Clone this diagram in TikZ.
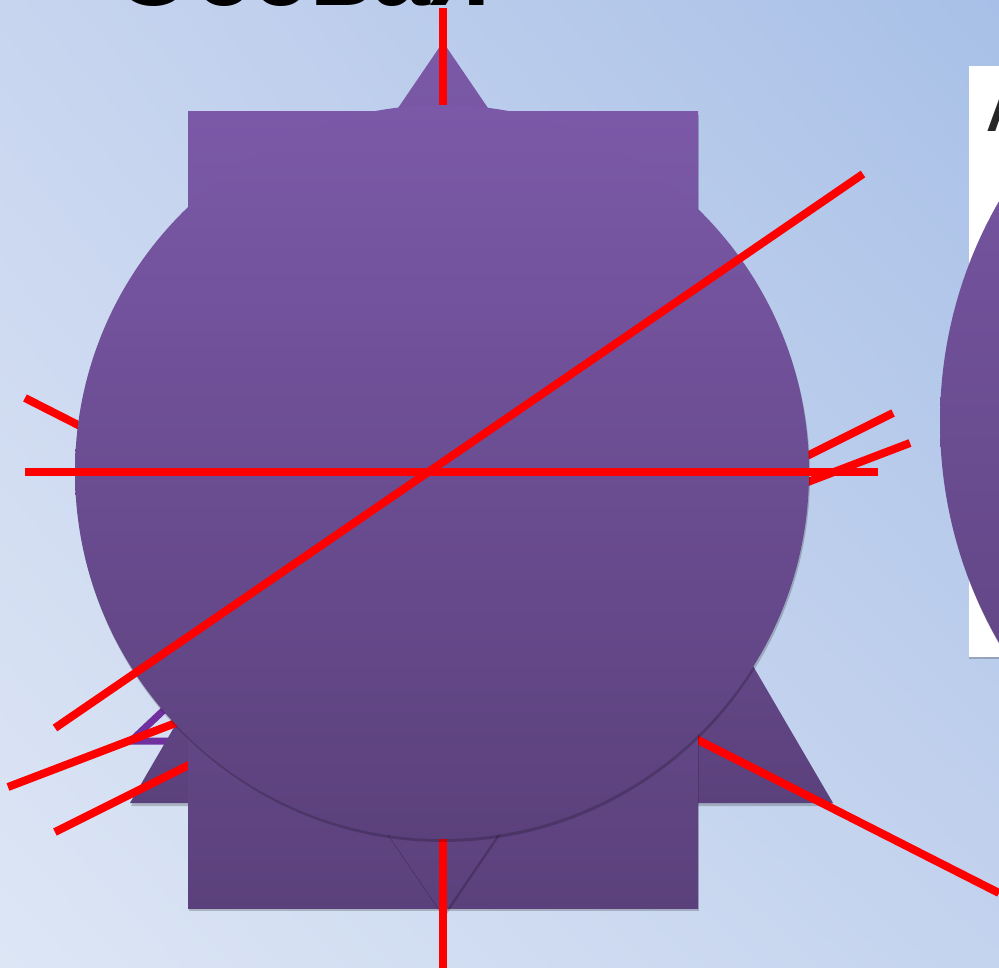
\documentclass[tikz,border=0pt]{standalone}
\usepackage{fontspec}
\setmainfont{Liberation Sans}
\usetikzlibrary{shadows,shadings}
\definecolor{bgUL}{HTML}{C8D5EF}
\definecolor{bgUR}{HTML}{A8C0E7}
\definecolor{bgLL}{HTML}{DDE6F5}
\definecolor{bgLR}{HTML}{C4D3EE}
\definecolor{purpTop}{HTML}{7B59A8}
\definecolor{purpBot}{HTML}{5B417C}
\definecolor{axisred}{HTML}{FF0000}
\definecolor{violetline}{HTML}{7030A0}
\tikzset{
  figure/.style={top color=purpTop, bottom color=purpBot, draw=none,
    drop shadow={shadow xshift=1pt, shadow yshift=-3pt, opacity=0.2, fill=black}},
  axisline/.style={draw=axisred, line width=8pt},
  outlineline/.style={draw=violetline, line width=7pt, miter limit=10},
  titletext/.style={inner sep=0pt, anchor=base west, text=black,
    font=\fontsize{104}{110}\selectfont\bfseries},
  slidetext/.style={inner sep=0pt, anchor=base west, text=black!85,
    font=\fontsize{55}{60}\selectfont\bfseries},
}
\begin{document}
\begin{tikzpicture}[x=1pt, y=-1pt]
\useasboundingbox (0,0) rectangle (999,968);
\clip (0,0) rectangle (999,968);
% background
\shade[upper left=bgUL, upper right=bgUR, lower left=bgLL, lower right=bgLR]
  (0,0) rectangle (999,968);
% right picture
\fill[white, drop shadow={shadow xshift=0pt, shadow yshift=-2pt, opacity=0.2, fill=black}]
  (969,66) rectangle (1010,657);
\node[slidetext] (letterA) at (986,132) {А};
\path[figure] (1382,422) circle[radius=442];
% violet outline fragment
\draw[outlineline] (166,708) -- (131,741) -- (172,741);
% big triangle
\path[figure] (130,803) -- (833,803) -- (481,200) -- cycle;
% axes behind
\coordinate (a1) at (25,398);  \coordinate (a2) at (999,893);
\coordinate (b1) at (55,832);  \coordinate (b2) at (893,413);
\coordinate (c1) at (8,787);   \coordinate (c2) at (910,443);
\draw[axisline] (a1) -- (a2);
\draw[axisline] (b1) -- (b2);
\draw[axisline] (c1) -- (c2);
% square
\path[figure] (188,112) rectangle (698,908);
% rhombus
\path[figure] (443,42) -- (740,478) -- (443,915) -- (146,478) -- cycle;
% vertical axis
\coordinate (v1) at (443,8); \coordinate (v2) at (443,968);
\draw[axisline] (v1) -- (v2);
% circle
\path[figure] (442,472) circle[radius=367];
% axes in front
\coordinate (h1) at (25,472);  \coordinate (h2) at (878,472);
\coordinate (d1) at (55,728);  \coordinate (d2) at (863,174);
\draw[axisline] (h1) -- (h2);
\draw[axisline] (d1) -- (d2);
% title
\node[titletext] (title) at (113,6) {Осевая};
\end{tikzpicture}
\end{document}
